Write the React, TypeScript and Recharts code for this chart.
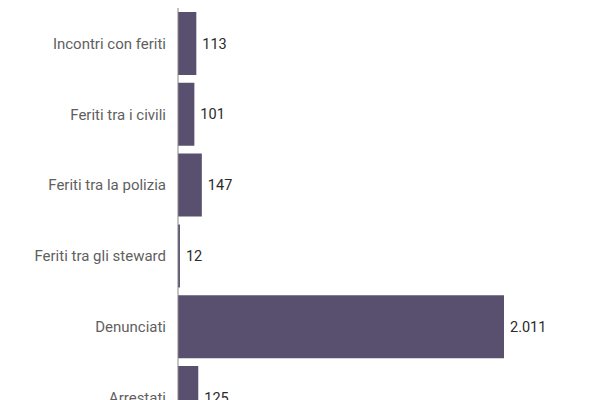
import { BarChart, Bar, XAxis, YAxis, LabelList } from 'recharts'

const categories = [
  'Incontri con feriti',
  'Feriti tra i civili',
  'Feriti tra la polizia',
  'Feriti tra gli steward',
  'Denunciati',
  'Arrestati',
]
const values = [113, 101, 147, 12, 2011, 125]

const data = categories.map((name, i) => ({ name, value: values[i] }))

const fmt = (v: number) => v.toLocaleString('it-IT')

export default function App() {
  return (
    <div style={{ fontFamily: 'Roboto, sans-serif' }}>
      <BarChart
        width={560}
        height={433}
        data={data}
        layout="vertical"
        margin={{ top: 0, right: 64, bottom: 8, left: 0 }}
        barCategoryGap="5.5%"
      >
        <XAxis type="number" domain={[0, 'dataMax']} hide />
        <YAxis
          type="category"
          dataKey="name"
          width={170}
          tickLine={false}
          tickMargin={6}
          axisLine={{ stroke: '#888' }}
          tick={{ fill: '#5f5f5f', fontSize: 15 }}
        />
        <Bar dataKey="value" fill="#594f6f" isAnimationActive={false}>
          <LabelList
            dataKey="value"
            position="right"
            offset={6}
            formatter={(v: number) => fmt(v)}
            style={{ fill: '#2a2a2a', fontSize: 14.5 }}
          />
        </Bar>
      </BarChart>
    </div>
  )
}
